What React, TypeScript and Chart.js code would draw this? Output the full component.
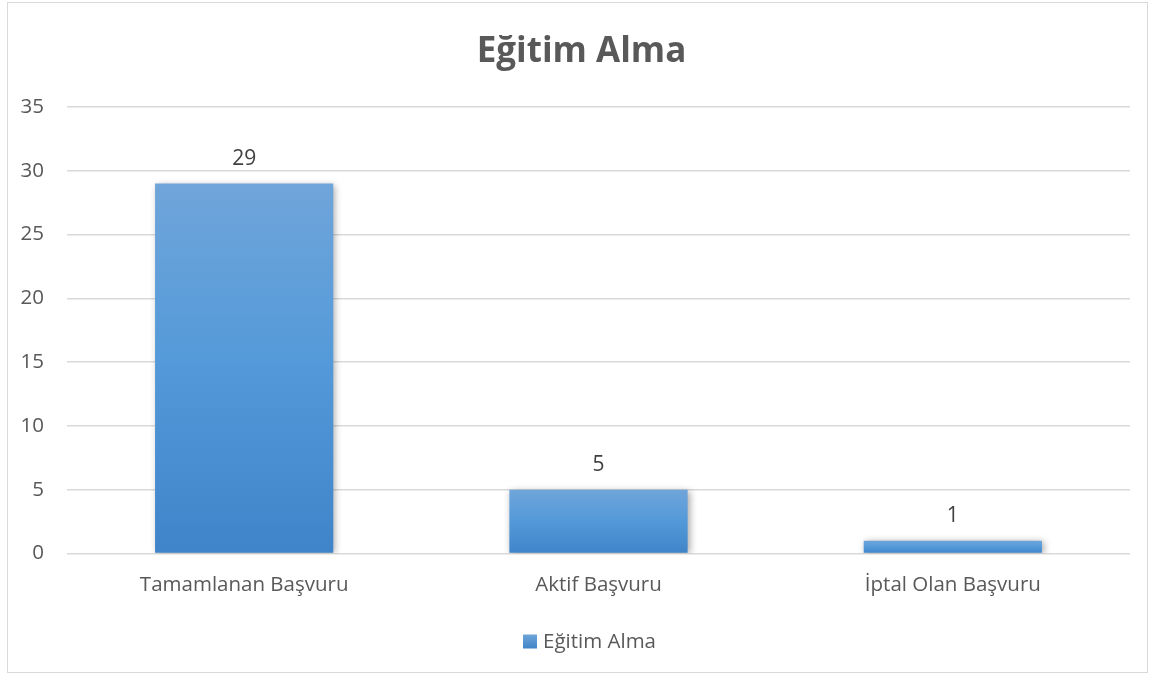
import React, { useEffect, useRef } from "react";
import { Chart, registerables } from "chart.js";

Chart.register(...registerables);

const categories = ["Tamamlanan Başvuru", "Aktif Başvuru", "İptal Olan Başvuru"];
const values = [29, 5, 1];
const seriesName = "Eğitim Alma";
const titleText = "Eğitim Alma";
const yTicks = [0, 5, 10, 15, 20, 25, 30, 35];

const FONT = "'Open Sans', sans-serif";
const TEXT_COLOR = "#595959";

const barShadow = {
  id: "barShadow",
  beforeDatasetsDraw(chart: any) {
    const ctx = chart.ctx;
    ctx.save();
    ctx.shadowColor = "rgba(0,0,0,0.35)";
    ctx.shadowBlur = 7;
    ctx.shadowOffsetX = 2;
    ctx.shadowOffsetY = 1;
  },
  afterDatasetsDraw(chart: any) {
    chart.ctx.restore();
  },
};

const dataLabels = {
  id: "dataLabels",
  afterDatasetsDraw(chart: any) {
    const ctx = chart.ctx;
    const meta = chart.getDatasetMeta(0);
    ctx.save();
    ctx.font = `21px ${FONT}`;
    ctx.fillStyle = "#404040";
    ctx.textAlign = "center";
    ctx.textBaseline = "middle";
    meta.data.forEach((bar: any, i: number) => {
      ctx.fillText(String(chart.data.datasets[0].data[i]), bar.x, bar.y - 25);
    });
    ctx.restore();
  },
};

// Title drawn slightly right of centre, like the reference; the title plugin reserves the space.
const titleAndLegend = {
  id: "titleAndLegend",
  afterDraw(chart: any) {
    const ctx = chart.ctx;
    ctx.save();
    // title
    const tb = chart.titleBlock;
    const tTop = tb ? tb.top : 0;
    ctx.font = `bold 35px ${FONT}`;
    ctx.fillStyle = TEXT_COLOR;
    ctx.textAlign = "center";
    ctx.textBaseline = "middle";
    ctx.fillText(titleText, chart.width / 2 + 4, tTop + 28 + 21);
    // legend
    ctx.font = `20.5px ${FONT}`;
    const tw = ctx.measureText(seriesName).width;
    const box = 14;
    const gap = 6;
    const total = box + gap + tw;
    const cx = chart.width / 2 + 12;
    const cy = chart.height - 30.5;
    const x0 = cx - total / 2;
    const g = ctx.createLinearGradient(0, cy - box / 2, 0, cy + box / 2);
    g.addColorStop(0, "#6fa5da");
    g.addColorStop(1, "#3f84c8");
    ctx.fillStyle = g;
    ctx.fillRect(x0, cy - box / 2, box, box);
    ctx.fillStyle = TEXT_COLOR;
    ctx.textAlign = "left";
    ctx.fillText(seriesName, x0 + box + gap, cy + 1);
    ctx.restore();
  },
};

export default function App() {
  const ref = useRef<HTMLCanvasElement>(null);
  useEffect(() => {
    if (!ref.current) return;
    const chart = new Chart(ref.current, {
      type: "bar",
      data: {
        labels: categories,
        datasets: [
          {
            label: seriesName,
            data: values,
            backgroundColor: (c: any) => {
              const ch = c.chart;
              const y = ch.scales && ch.scales.y;
              if (!y || c.type !== "data") return "#5b9bd5";
              const top = y.getPixelForValue(c.raw);
              const bot = y.getPixelForValue(0);
              if (!isFinite(top) || !isFinite(bot) || top === bot) return "#5b9bd5";
              const g = ch.ctx.createLinearGradient(0, top, 0, bot);
              g.addColorStop(0, "#6fa5da");
              g.addColorStop(0.5, "#5399d9");
              g.addColorStop(1, "#3f84c8");
              return g;
            },
            borderWidth: 0,
            categoryPercentage: 0.503,
            barPercentage: 1,
          },
        ],
      },
      options: {
        responsive: true,
        maintainAspectRatio: false,
        animation: false,
        layout: { padding: { left: 0, right: 17, top: 0, bottom: 49.5 } },
        plugins: {
          title: {
            display: true,
            text: titleText,
            color: "rgba(0,0,0,0)",
            font: { family: FONT, size: 35, weight: "bold" },
            padding: { top: 28, bottom: 34 },
          },
          legend: { display: false },
          tooltip: { enabled: false },
        },
        scales: {
          x: {
            grid: { display: false, drawTicks: false },
            border: { display: false },
            ticks: { color: TEXT_COLOR, font: { family: FONT, size: 20.5 }, padding: 19 },
            afterFit: (s: any) => {
              s.height = 69;
            },
          },
          y: {
            min: 0,
            max: 35,
            afterBuildTicks: (s: any) => {
              s.ticks = yTicks.map((v) => ({ value: v }));
            },
            grid: { color: "#d9d9d9", lineWidth: 1.5, drawTicks: false },
            border: { display: false },
            ticks: { color: TEXT_COLOR, font: { family: FONT, size: 20.5 }, padding: 23 },
            afterFit: (s: any) => {
              s.width = 59;
            },
          },
        },
      },
      plugins: [barShadow, dataLabels, titleAndLegend],
    });
    return () => chart.destroy();
  }, []);

  return (
    <div
      style={{
        position: "absolute",
        left: 7,
        top: 2,
        width: 1139,
        height: 669,
        border: "1.5px solid #d9d9d9",
        background: "#fff",
      }}
    >
      <canvas ref={ref} />
    </div>
  );
}
